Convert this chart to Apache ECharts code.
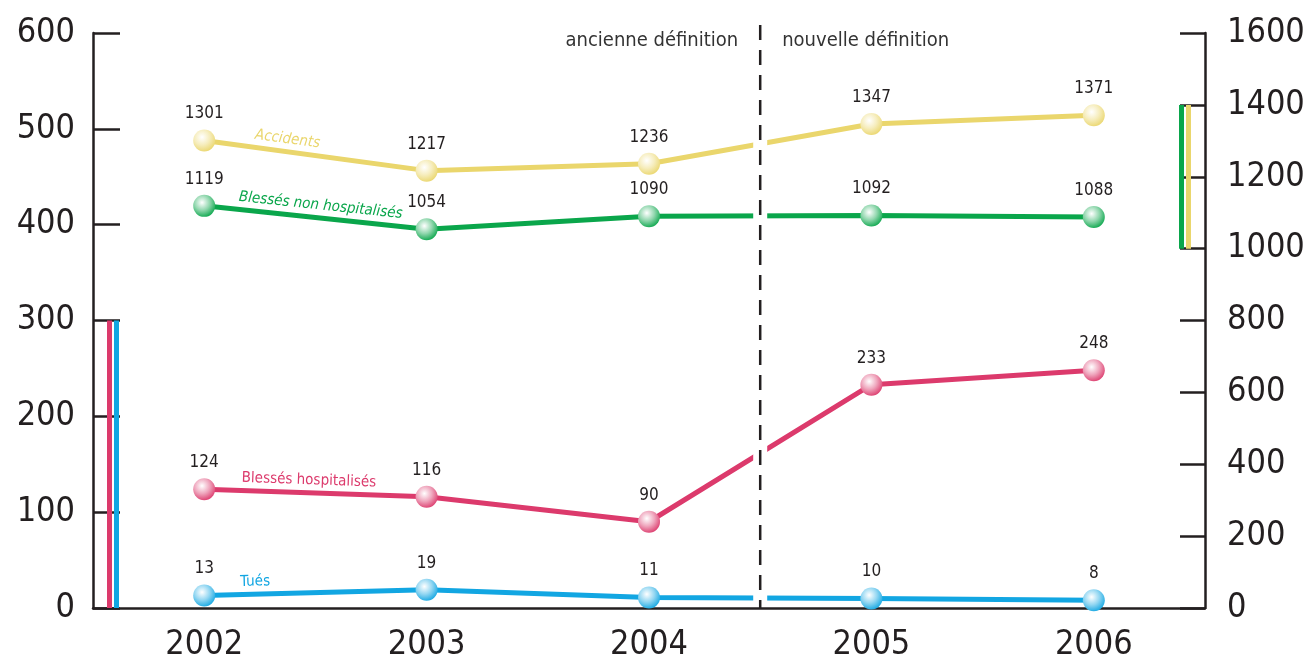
<!DOCTYPE html>
<html>
<head>
<meta charset="utf-8">
<script src="https://cdn.jsdelivr.net/npm/echarts@6/dist/echarts.min.js"></script>
<style>
  html, body { margin: 0; padding: 0; background: #fff; }
  #chart { width: 1305px; height: 666px; }
</style>
</head>
<body>
<div id="chart"></div>
<script>
// données
const years = ["2002", "2003", "2004", "2005", "2006"];
const accidents = [1301, 1217, 1236, 1347, 1371];
const blessesNonHosp = [1119, 1054, 1090, 1092, 1088];
const blessesHosp = [124, 116, 90, 233, 248];
const tues = [13, 19, 11, 10, 8];
const periodLabels = ["ancienne définition", "nouvelle définition"];

const FONT = "'Liberation Sans Narrow', 'DejaVu Sans Condensed', sans-serif";
const INK = "#231f20";

const colors = {
  accidents: "#ead66c",
  nonHosp: "#0aa64b",
  hosp: "#dc3a6c",
  tues: "#12a6e2",
};

// mélange avec du blanc
function tint(hex, t) {
  const n = parseInt(hex.slice(1), 16);
  const r = (n >> 16) & 255, g = (n >> 8) & 255, b = n & 255;
  const m = (c) => Math.round(c + (255 - c) * t);
  return "rgb(" + m(r) + "," + m(g) + "," + m(b) + ")";
}

function ball(base) {
  return new echarts.graphic.RadialGradient(0.4, 0.35, 0.7, [
    { offset: 0, color: "#ffffff" },
    { offset: 0.5, color: tint(base, 0.55) },
    { offset: 1, color: base },
  ]);
}

function lineSeries(name, data, color, yAxisIndex) {
  return {
    name: name,
    type: "line",
    yAxisIndex: yAxisIndex,
    data: data,
    symbol: "circle",
    symbolSize: 22,
    z: 3,
    lineStyle: { color: color, width: 5 },
    itemStyle: { color: ball(color), borderWidth: 0 },
    label: {
      show: true,
      position: "top",
      distance: 7,
      fontFamily: FONT,
      fontSize: 17,
      color: INK,
    },
    emphasis: { disabled: true },
    animation: false,
  };
}

const chart = echarts.init(document.getElementById("chart"));

const option = {
  animation: false,
  grid: { left: 93, right: 100, top: 33, bottom: 58, containLabel: false, outerBoundsMode: "none" },
  xAxis: [
    {
      type: "category",
      data: years,
      axisLine: { lineStyle: { color: INK, width: 2.5 } },
      axisTick: { inside: true, length: 6, lineStyle: { color: INK, width: 2 } },
      axisLabel: { fontFamily: FONT, fontSize: 34, color: INK, margin: 20 },
    },
    // axe caché pour placer les repères entre catégories
    { type: "value", min: 0, max: 5, show: false },
  ],
  yAxis: [
    {
      type: "value",
      min: 0,
      max: 600,
      interval: 100,
      splitLine: { show: false },
      axisLine: { show: true, lineStyle: { color: INK, width: 2.5 } },
      axisTick: { show: true, inside: true, length: 27, lineStyle: { color: INK, width: 2.5 } },
      axisLabel: { fontFamily: FONT, fontSize: 34, color: INK, margin: 18 },
    },
    {
      type: "value",
      min: 0,
      max: 1600,
      interval: 200,
      splitLine: { show: false },
      axisLine: { show: true, lineStyle: { color: INK, width: 2.5 } },
      axisTick: { show: true, inside: true, length: 25, lineStyle: { color: INK, width: 2.5 } },
      axisLabel: {
        fontFamily: FONT,
        fontSize: 34,
        color: INK,
        margin: 22,
        formatter: (v) => String(v),
      },
    },
  ],
  series: [
    lineSeries("Accidents", accidents, colors.accidents, 1),
    lineSeries("Blessés non hospitalisés", blessesNonHosp, colors.nonHosp, 1),
    lineSeries("Blessés hospitalisés", blessesHosp, colors.hosp, 0),
    lineSeries("Tués", tues, colors.tues, 0),
  ],
};

chart.setOption(option);

// éléments graphiques calculés à partir des axes
const px = (v) => chart.convertToPixel({ xAxisIndex: 1 }, v);
const pyL = (v) => chart.convertToPixel({ yAxisIndex: 0 }, v);
const pyR = (v) => chart.convertToPixel({ yAxisIndex: 1 }, v);

const gridLeft = px(0);
const gridRight = px(5);
const plotBottom = pyL(0);
const plotTop = pyL(600);
const sepX = px(3);

// nom de série le long du premier segment
function seriesName(text, data, axisFn, frac, color, italic) {
  const x0 = px(0.5), x1 = px(1.5);
  const y0 = axisFn(data[0]), y1 = axisFn(data[1]);
  const x = x0 + (x1 - x0) * frac;
  const y = y0 + (y1 - y0) * frac;
  return {
    type: "text",
    x: x,
    y: y - 5,
    rotation: -Math.atan2(y1 - y0, x1 - x0),
    z: 20,
    style: {
      text: text,
      fontFamily: FONT,
      fontSize: 15,
      fontStyle: italic ? "italic" : "normal",
      fill: color,
      textAlign: "center",
      textVerticalAlign: "bottom",
    },
  };
}

const graphics = [
  // repères couleur axe gauche
  { type: "rect", z: 5, shape: { x: gridLeft + 14, y: pyL(300), width: 5, height: plotBottom - pyL(300) }, style: { fill: colors.hosp } },
  { type: "rect", z: 5, shape: { x: gridLeft + 21, y: pyL(300), width: 5, height: plotBottom - pyL(300) }, style: { fill: colors.tues } },
  // repères couleur axe droit
  { type: "rect", z: 5, shape: { x: gridRight - 26, y: pyR(1400), width: 5, height: pyR(1000) - pyR(1400) }, style: { fill: colors.nonHosp } },
  { type: "rect", z: 5, shape: { x: gridRight - 19, y: pyR(1400), width: 5, height: pyR(1000) - pyR(1400) }, style: { fill: colors.accidents } },
  // coupure des courbes
  { type: "rect", z: 20, shape: { x: sepX - 7, y: plotTop, width: 14, height: plotBottom - plotTop - 4 }, style: { fill: "#fff" } },
  {
    type: "line",
    z: 21,
    shape: { x1: sepX, y1: plotTop - 8, x2: sepX, y2: plotBottom },
    style: { stroke: INK, lineWidth: 2.5, lineDash: [15, 10] },
  },
  {
    type: "text",
    z: 21,
    x: sepX - 22,
    y: plotTop + 8,
    style: { text: periodLabels[0], fontFamily: FONT, fontSize: 20, fill: "#333", textAlign: "right", textVerticalAlign: "middle" },
  },
  {
    type: "text",
    z: 21,
    x: sepX + 22,
    y: plotTop + 8,
    style: { text: periodLabels[1], fontFamily: FONT, fontSize: 20, fill: "#333", textAlign: "left", textVerticalAlign: "middle" },
  },
  seriesName("Accidents", accidents, pyR, 0.37, colors.accidents, true),
  seriesName("Blessés non hospitalisés", blessesNonHosp, pyR, 0.52, colors.nonHosp, true),
  seriesName("Blessés hospitalisés", blessesHosp, pyL, 0.47, colors.hosp, false),
  seriesName("Tués", tues, pyL, 0.23, colors.tues, false),
];

chart.setOption({ graphic: graphics });
</script>
</body>
</html>
